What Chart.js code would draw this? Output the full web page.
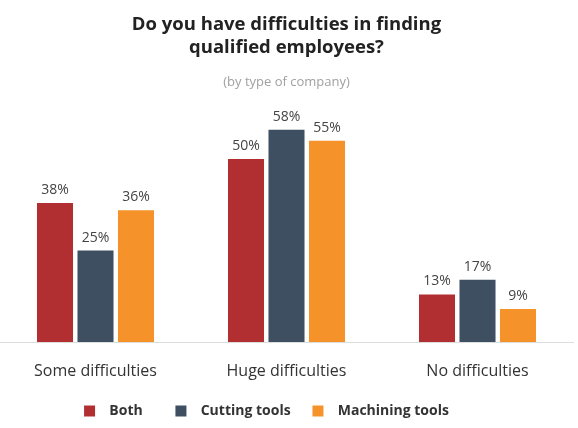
<!DOCTYPE html>
<html>
<head>
<meta charset="utf-8">
<script src="https://cdn.jsdelivr.net/npm/chart.js@4"></script>
<style>
  body { margin: 0; background: #fff; }
</style>
</head>
<body>
<canvas id="chart" width="578" height="428"></canvas>
<script>
  const categories = ['Some difficulties', 'Huge difficulties', 'No difficulties'];
  const seriesNames = ['Both', 'Cutting tools', 'Machining tools'];
  const both = [38, 50, 13];
  const cutting = [25, 58, 17];
  const machining = [36, 55, 9];
  const colors = ['#b12f30', '#3e4f62', '#f5922a'];

  // value labels drawn above each bar
  const barLabels = {
    id: 'barLabels',
    afterDatasetsDraw(chart) {
      const ctx = chart.ctx;
      ctx.save();
      ctx.font = '14px "Open Sans"';
      ctx.fillStyle = '#444';
      ctx.textAlign = 'center';
      ctx.textBaseline = 'middle';
      chart.data.datasets.forEach((ds, i) => {
        chart.getDatasetMeta(i).data.forEach((bar, j) => {
          ctx.fillText(ds.data[j] + '%', bar.x, bar.y - 13);
        });
      });
      ctx.restore();
    }
  };

  // spaces around legend text: wider gaps without a tall legend box
  const legendTrail = [9, 6, 11];
  const defaultLabels = Chart.defaults.plugins.legend.labels.generateLabels;

  new Chart(document.getElementById('chart'), {
    type: 'bar',
    data: {
      labels: categories,
      datasets: [both, cutting, machining].map((d, i) => ({
        label: seriesNames[i],
        data: d,
        backgroundColor: colors[i],
        barPercentage: 0.89,
        categoryPercentage: 0.636
      }))
    },
    options: {
      responsive: false,
      animation: false,
      layout: { padding: { left: 0, right: 5, top: 0, bottom: 0 } },
      plugins: {
        title: {
          display: true,
          text: ['Do you have difficulties in finding', 'qualified employees?'],
          font: { family: 'Open Sans', size: 18.5, weight: 'bold' },
          color: '#222',
          lineHeight: 1.2,
          padding: { top: 14, bottom: 16 }
        },
        subtitle: {
          display: true,
          text: '(by type of company)',
          font: { family: 'Open Sans', size: 13 },
          color: '#a0a0a0',
          lineHeight: 1.2,
          padding: { bottom: 32.5 }
        },
        legend: {
          position: 'bottom',
          labels: {
            boxWidth: 11,
            boxHeight: 11,
            padding: 0,
            color: '#333',
            font: { family: 'Open Sans', size: 14, weight: 'bold' },
            generateLabels(chart) {
              return defaultLabels(chart).map((item, i) => {
                item.text = '  ' + item.text + ' '.repeat(legendTrail[i]);
                return item;
              });
            }
          }
        },
        tooltip: { enabled: false }
      },
      scales: {
        x: {
          grid: { display: false },
          border: { color: '#ddd' },
          ticks: { color: '#333', font: { family: 'Open Sans', size: 16 }, padding: 12 },
          afterFit(axis) { axis.height = 62; }
        },
        y: {
          display: false,
          min: 0,
          max: 60
        }
      }
    },
    plugins: [barLabels]
  });
</script>
</body>
</html>
